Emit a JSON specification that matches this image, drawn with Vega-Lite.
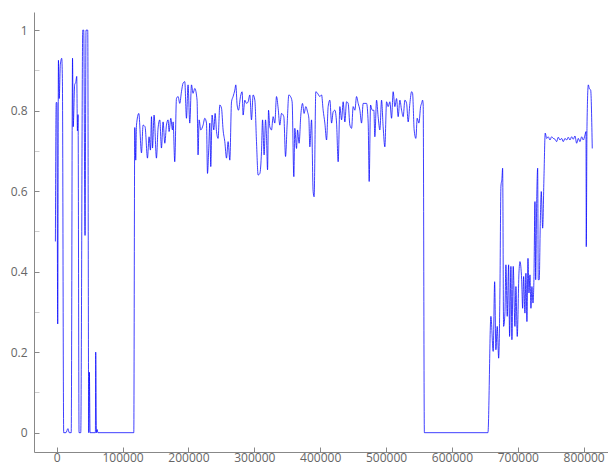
{
  "$schema": "https://vega.github.io/schema/vega-lite/v6.json",
  "width": 574,
  "height": 440,
  "autosize": {"type": "none"},
  "padding": {"left": 34, "top": 12, "right": 0, "bottom": 14},
  "background": "white",
  "config": {
    "view": {"stroke": null},
    "axis": {
      "grid": false,
      "domainColor": "#888888",
      "tickColor": "#888888",
      "labelColor": "#666666",
      "labelFont": "Open Sans",
      "labelFontSize": 12,
      "tickSize": -5,
      "title": null
    }
  },
  "data": {
    "values": [
      {"x": -2000, "y": 0.475}, {"x": -800, "y": 0.82}, {"x": 300, "y": 0.82}, {"x": 1500, "y": 0.27},
      {"x": 2600, "y": 0.925}, {"x": 3800, "y": 0.83}, {"x": 5500, "y": 0.915}, {"x": 7600, "y": 0.93},
      {"x": 8600, "y": 0.88}, {"x": 10600, "y": 0}, {"x": 14000, "y": 0}, {"x": 17000, "y": 0.01},
      {"x": 19000, "y": 0}, {"x": 22000, "y": 0}, {"x": 24000, "y": 0.93}, {"x": 25000, "y": 0.76},
      {"x": 27300, "y": 0.865}, {"x": 28900, "y": 0.87}, {"x": 30400, "y": 0.885}, {"x": 31400, "y": 0.75},
      {"x": 32400, "y": 0.79}, {"x": 33900, "y": 0}, {"x": 36500, "y": 0}, {"x": 39500, "y": 1.0},
      {"x": 41000, "y": 1.0}, {"x": 43000, "y": 0.49}, {"x": 44500, "y": 1.0}, {"x": 47100, "y": 1.0},
      {"x": 48600, "y": 0}, {"x": 49600, "y": 0.15}, {"x": 50600, "y": 0}, {"x": 58700, "y": 0},
      {"x": 59200, "y": 0.2}, {"x": 60300, "y": 0}, {"x": 61300, "y": 0.008}, {"x": 62500, "y": 0},
      {"x": 117000, "y": 0}, {"x": 118500, "y": 0.758}, {"x": 120000, "y": 0.677}, {"x": 121100, "y": 0.764},
      {"x": 124600, "y": 0.793}, {"x": 128700, "y": 0.695}, {"x": 131100, "y": 0.764}, {"x": 134100, "y": 0.76},
      {"x": 137800, "y": 0.682}, {"x": 140200, "y": 0.735}, {"x": 142300, "y": 0.702}, {"x": 143900, "y": 0.785},
      {"x": 145400, "y": 0.707}, {"x": 147800, "y": 0.789}, {"x": 151400, "y": 0.682}, {"x": 153900, "y": 0.757},
      {"x": 156500, "y": 0.777}, {"x": 159000, "y": 0.707}, {"x": 161500, "y": 0.772}, {"x": 164100, "y": 0.719},
      {"x": 166600, "y": 0.764}, {"x": 169100, "y": 0.777}, {"x": 170600, "y": 0.748}, {"x": 173200, "y": 0.781},
      {"x": 175700, "y": 0.752}, {"x": 176700, "y": 0.772}, {"x": 179200, "y": 0.673}, {"x": 181800, "y": 0.83},
      {"x": 184300, "y": 0.835}, {"x": 186800, "y": 0.818}, {"x": 189400, "y": 0.847}, {"x": 191800, "y": 0.868},
      {"x": 194400, "y": 0.872}, {"x": 197000, "y": 0.781}, {"x": 199400, "y": 0.864}, {"x": 202000, "y": 0.769},
      {"x": 204600, "y": 0.864}, {"x": 207000, "y": 0.843}, {"x": 209600, "y": 0.855}, {"x": 213100, "y": 0.826},
      {"x": 214600, "y": 0.69}, {"x": 216200, "y": 0.777}, {"x": 218700, "y": 0.752}, {"x": 222200, "y": 0.764},
      {"x": 224800, "y": 0.781}, {"x": 227400, "y": 0.769}, {"x": 228900, "y": 0.644}, {"x": 230900, "y": 0.71},
      {"x": 232400, "y": 0.769}, {"x": 233900, "y": 0.661}, {"x": 235900, "y": 0.789}, {"x": 238500, "y": 0.752},
      {"x": 240500, "y": 0.793}, {"x": 242600, "y": 0.748}, {"x": 245000, "y": 0.731}, {"x": 247600, "y": 0.814},
      {"x": 250200, "y": 0.806}, {"x": 252600, "y": 0.752}, {"x": 255200, "y": 0.723}, {"x": 257800, "y": 0.682},
      {"x": 260200, "y": 0.723}, {"x": 262800, "y": 0.677}, {"x": 265400, "y": 0.822}, {"x": 267800, "y": 0.835},
      {"x": 270400, "y": 0.851}, {"x": 271900, "y": 0.864}, {"x": 273900, "y": 0.814}, {"x": 276000, "y": 0.801},
      {"x": 279000, "y": 0.835}, {"x": 281500, "y": 0.847}, {"x": 283000, "y": 0.789}, {"x": 285600, "y": 0.826},
      {"x": 288200, "y": 0.818}, {"x": 290600, "y": 0.822}, {"x": 293200, "y": 0.839}, {"x": 295700, "y": 0.777},
      {"x": 298200, "y": 0.839}, {"x": 300800, "y": 0.826}, {"x": 303300, "y": 0.723}, {"x": 305800, "y": 0.64},
      {"x": 308400, "y": 0.644}, {"x": 310900, "y": 0.698}, {"x": 312500, "y": 0.777}, {"x": 314900, "y": 0.69},
      {"x": 317000, "y": 0.777}, {"x": 318500, "y": 0.735}, {"x": 320100, "y": 0.653}, {"x": 321600, "y": 0.801},
      {"x": 323500, "y": 0.76}, {"x": 326100, "y": 0.752}, {"x": 328600, "y": 0.785}, {"x": 331100, "y": 0.769},
      {"x": 333700, "y": 0.835}, {"x": 336200, "y": 0.806}, {"x": 338700, "y": 0.764}, {"x": 341300, "y": 0.793},
      {"x": 344800, "y": 0.785}, {"x": 347400, "y": 0.686}, {"x": 349800, "y": 0.764}, {"x": 352400, "y": 0.839},
      {"x": 355000, "y": 0.835}, {"x": 357400, "y": 0.822}, {"x": 360000, "y": 0.636}, {"x": 361500, "y": 0.756},
      {"x": 364100, "y": 0.706}, {"x": 365600, "y": 0.752}, {"x": 368000, "y": 0.719}, {"x": 370600, "y": 0.789},
      {"x": 373200, "y": 0.818}, {"x": 375600, "y": 0.793}, {"x": 378200, "y": 0.81}, {"x": 380800, "y": 0.797},
      {"x": 382800, "y": 0.781}, {"x": 384300, "y": 0.71}, {"x": 386900, "y": 0.777}, {"x": 389300, "y": 0.599},
      {"x": 390800, "y": 0.586}, {"x": 393400, "y": 0.847}, {"x": 396000, "y": 0.843}, {"x": 399500, "y": 0.835},
      {"x": 402100, "y": 0.839}, {"x": 404500, "y": 0.801}, {"x": 407100, "y": 0.769}, {"x": 409700, "y": 0.727},
      {"x": 412100, "y": 0.81}, {"x": 414700, "y": 0.826}, {"x": 417300, "y": 0.769}, {"x": 419700, "y": 0.797},
      {"x": 422300, "y": 0.801}, {"x": 424900, "y": 0.769}, {"x": 427300, "y": 0.673}, {"x": 429900, "y": 0.81},
      {"x": 432500, "y": 0.777}, {"x": 434900, "y": 0.822}, {"x": 437500, "y": 0.772}, {"x": 440000, "y": 0.822},
      {"x": 442500, "y": 0.818}, {"x": 445100, "y": 0.764}, {"x": 447700, "y": 0.756}, {"x": 450100, "y": 0.81},
      {"x": 452700, "y": 0.801}, {"x": 455200, "y": 0.835}, {"x": 457700, "y": 0.818}, {"x": 460300, "y": 0.801},
      {"x": 462800, "y": 0.769}, {"x": 465300, "y": 0.818}, {"x": 467900, "y": 0.818}, {"x": 470400, "y": 0.818},
      {"x": 472900, "y": 0.769}, {"x": 474400, "y": 0.624}, {"x": 476500, "y": 0.814}, {"x": 479000, "y": 0.801},
      {"x": 481500, "y": 0.801}, {"x": 483000, "y": 0.735}, {"x": 485600, "y": 0.826}, {"x": 488000, "y": 0.785},
      {"x": 490600, "y": 0.752}, {"x": 493200, "y": 0.826}, {"x": 495600, "y": 0.76}, {"x": 498200, "y": 0.71},
      {"x": 500800, "y": 0.822}, {"x": 503200, "y": 0.81}, {"x": 505800, "y": 0.822}, {"x": 508400, "y": 0.781},
      {"x": 510800, "y": 0.847}, {"x": 513400, "y": 0.81}, {"x": 516000, "y": 0.83}, {"x": 518400, "y": 0.785},
      {"x": 521000, "y": 0.826}, {"x": 523600, "y": 0.801}, {"x": 526000, "y": 0.785}, {"x": 528600, "y": 0.826},
      {"x": 531200, "y": 0.818}, {"x": 533600, "y": 0.772}, {"x": 536200, "y": 0.818}, {"x": 538800, "y": 0.847},
      {"x": 540300, "y": 0.843}, {"x": 542700, "y": 0.752}, {"x": 545300, "y": 0.731}, {"x": 547300, "y": 0.781},
      {"x": 549900, "y": 0.769}, {"x": 552500, "y": 0.81}, {"x": 554000, "y": 0.818}, {"x": 555500, "y": 0.826},
      {"x": 556400, "y": 0.814}, {"x": 558200, "y": 0}, {"x": 654700, "y": 0}, {"x": 659200, "y": 0.289},
      {"x": 662700, "y": 0.202}, {"x": 664900, "y": 0.375}, {"x": 666800, "y": 0.206}, {"x": 668800, "y": 0.264},
      {"x": 671000, "y": 0.185}, {"x": 672900, "y": 0.347}, {"x": 674400, "y": 0.611}, {"x": 676000, "y": 0.632},
      {"x": 677000, "y": 0.657}, {"x": 678500, "y": 0.264}, {"x": 680500, "y": 0.297}, {"x": 682000, "y": 0.417},
      {"x": 684000, "y": 0.289}, {"x": 686100, "y": 0.417}, {"x": 687600, "y": 0.239}, {"x": 689600, "y": 0.413},
      {"x": 691100, "y": 0.231}, {"x": 693100, "y": 0.413}, {"x": 695700, "y": 0.264}, {"x": 697200, "y": 0.363},
      {"x": 699200, "y": 0.239}, {"x": 701800, "y": 0.396}, {"x": 703300, "y": 0.425}, {"x": 705900, "y": 0.38},
      {"x": 707400, "y": 0.309}, {"x": 708900, "y": 0.388}, {"x": 710900, "y": 0.297}, {"x": 712400, "y": 0.396},
      {"x": 713900, "y": 0.276}, {"x": 715500, "y": 0.433}, {"x": 717000, "y": 0.347}, {"x": 718500, "y": 0.392},
      {"x": 720000, "y": 0.309}, {"x": 721500, "y": 0.363}, {"x": 723100, "y": 0.322}, {"x": 724600, "y": 0.388},
      {"x": 726100, "y": 0.574}, {"x": 727200, "y": 0.38}, {"x": 728700, "y": 0.57}, {"x": 730200, "y": 0.657},
      {"x": 731100, "y": 0.38}, {"x": 732600, "y": 0.38}, {"x": 734200, "y": 0.52}, {"x": 735700, "y": 0.599},
      {"x": 737800, "y": 0.508}, {"x": 739800, "y": 0.636}, {"x": 741700, "y": 0.744}, {"x": 743900, "y": 0.731},
      {"x": 746300, "y": 0.735}, {"x": 748900, "y": 0.727}, {"x": 751400, "y": 0.735}, {"x": 753900, "y": 0.731},
      {"x": 756500, "y": 0.729}, {"x": 759000, "y": 0.723}, {"x": 761500, "y": 0.734}, {"x": 764100, "y": 0.727},
      {"x": 766600, "y": 0.731}, {"x": 769100, "y": 0.723}, {"x": 771700, "y": 0.731}, {"x": 774200, "y": 0.727},
      {"x": 776700, "y": 0.734}, {"x": 779200, "y": 0.727}, {"x": 781800, "y": 0.735}, {"x": 784300, "y": 0.729},
      {"x": 786800, "y": 0.737}, {"x": 789400, "y": 0.719}, {"x": 791900, "y": 0.731}, {"x": 794400, "y": 0.723},
      {"x": 797000, "y": 0.735}, {"x": 799500, "y": 0.727}, {"x": 802000, "y": 0.739}, {"x": 803600, "y": 0.748},
      {"x": 804000, "y": 0.462}, {"x": 805100, "y": 0.76}, {"x": 807100, "y": 0.864}, {"x": 808600, "y": 0.855},
      {"x": 810700, "y": 0.851}, {"x": 813100, "y": 0.706}
    ]
  },
  "mark": {"type": "line", "color": "#0000ff", "strokeWidth": 1, "opacity": 0.75, "interpolate": "monotone", "clip": true},
  "encoding": {
    "x": {
      "field": "x", "type": "quantitative",
      "scale": {"domain": [-34500, 837000], "nice": false, "zero": false},
      "axis": {"values": [0, 100000, 200000, 300000, 400000, 500000, 600000, 700000, 800000], "format": "d", "labelPadding": 5}
    },
    "y": {
      "field": "y", "type": "quantitative",
      "scale": {"domain": [-0.048, 1.045], "nice": false, "zero": false},
      "axis": {
        "values": [0, 0.1, 0.2, 0.3, 0.4, 0.5, 0.6, 0.7, 0.8, 0.9, 1],
        "format": "~g",
        "labelExpr": "round(datum.value * 10) % 2 == 0 ? datum.label : ''",
        "tickColor": {"condition": {"test": "round(datum.value * 10) % 2 == 0", "value": "#888888"}, "value": "#cccccc"},
        "labelPadding": 12
      }
    }
  }
}
